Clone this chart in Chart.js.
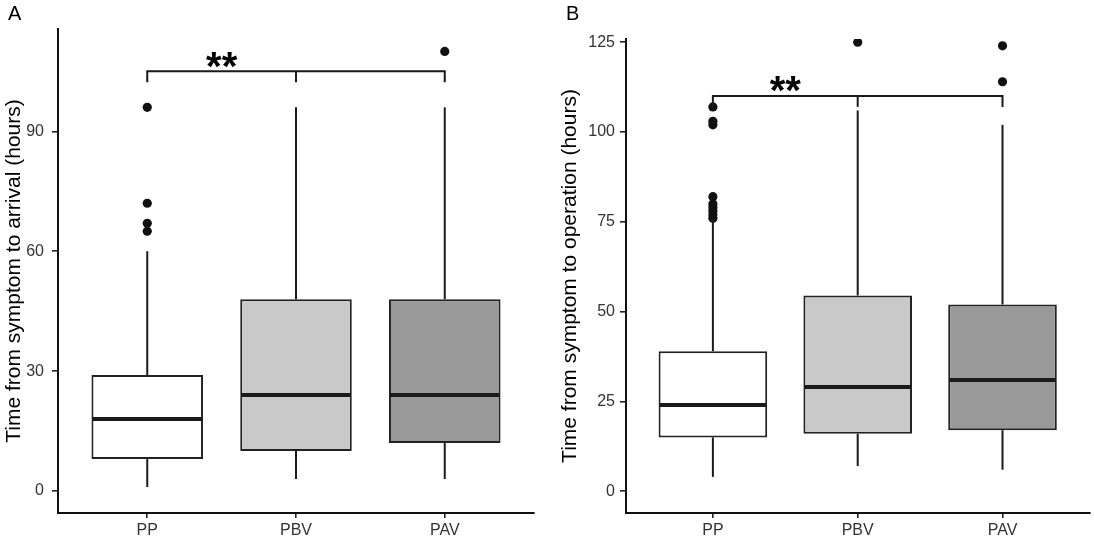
<!DOCTYPE html>
<html>
<head>
<meta charset="utf-8">
<script src="https://cdn.jsdelivr.net/npm/chart.js@4.4.1/dist/chart.umd.min.js"></script>
<style>
  html, body { margin: 0; padding: 0; background: #ffffff; }
  #wrap { position: relative; width: 1094px; height: 538px; overflow: hidden; }
  .pane { position: absolute; top: 0; height: 538px; }
  #paneA { left: 0; width: 545px; }
  #paneB { left: 545px; width: 549px; }
  .letter { position: absolute; top: 3px; font: 20px "Liberation Sans", Arial, sans-serif; line-height: 20px; color: #000; }
</style>
</head>
<body>
<div id="wrap">
  <div class="pane" id="paneA"><canvas id="chartA"></canvas></div>
  <div class="pane" id="paneB"><canvas id="chartB"></canvas></div>
  <div class="letter" style="left:8px;">A</div>
  <div class="letter" style="left:566px;">B</div>
</div>
<script>
// ---------- data ----------
const categories = ['PP', 'PBV', 'PAV'];
const boxFills = ['#ffffff', '#c9c9c9', '#999999'];

// Panel A: time from symptom to arrival (hours)
const A_title = 'Time from symptom to arrival (hours)';
const A_min = [1, 3, 3];
const A_q1 = [8, 10, 12];
const A_median = [18, 24, 24];
const A_q3 = [29, 48, 48];
const A_max = [60, 96, 96];
const A_outliers = [[65, 67, 72, 96], [], [110]];
const A_ticks = [0, 30, 60, 90];
const A_range = [-5.5, 115.6];
const A_bracket = [105, 102.3];   // bracket level, bracket leg end
const A_stars = [1.5, 108.3];     // category position, value

// Panel B: time from symptom to operation (hours)
const B_title = 'Time from symptom to operation (hours)';
const B_min = [4, 7, 6];
const B_q1 = [15, 16, 17];
const B_median = [24, 29, 31];
const B_q3 = [39, 54.5, 52];
const B_max = [76, 106, 102];
const B_outliers = [[76, 77, 78, 79, 80, 82, 102, 103, 107], [125], [114, 124]];
const B_ticks = [0, 25, 50, 75, 100, 125];
const B_range = [-6.05, 125.9];
const B_bracket = [110, 107];
const B_stars = [1.5, 114.1];

// ---------- plugin drawing whiskers, medians, bracket ----------
const boxExtras = {
  id: 'boxExtras',
  afterDatasetsDraw(chart, args, o) {
    const { ctx } = chart;
    const xs = chart.scales.x, ys = chart.scales.y;
    const meta = chart.getDatasetMeta(0);
    const seg = (x1, y1, x2, y2) => { ctx.beginPath(); ctx.moveTo(x1, y1); ctx.lineTo(x2, y2); ctx.stroke(); };
    ctx.save();
    ctx.strokeStyle = '#1a1a1a';
    ctx.lineCap = 'butt';
    o.lo.forEach((lo, i) => {
      const cx = xs.getPixelForValue(i + 1);
      ctx.lineWidth = 2;
      seg(cx, ys.getPixelForValue(o.q3[i]), cx, ys.getPixelForValue(o.hi[i]));
      seg(cx, ys.getPixelForValue(o.q1[i]), cx, ys.getPixelForValue(lo));
      const el = meta.data[i];
      const ym = ys.getPixelForValue(o.med[i]);
      ctx.lineWidth = 4;
      seg(el.x - el.width / 2 + 1, ym, el.x + el.width / 2 - 1, ym);
    });
    // significance bracket
    ctx.lineWidth = 2;
    ctx.lineCap = 'butt';
    ctx.lineJoin = 'miter';
    const by = ys.getPixelForValue(o.bracket[0]);
    const be = ys.getPixelForValue(o.bracket[1]);
    ctx.beginPath();
    ctx.moveTo(xs.getPixelForValue(1), be);
    ctx.lineTo(xs.getPixelForValue(1), by);
    ctx.lineTo(xs.getPixelForValue(3), by);
    ctx.lineTo(xs.getPixelForValue(3), be);
    ctx.stroke();
    seg(xs.getPixelForValue(2), by, xs.getPixelForValue(2), be);
    const fs = 40;
    ctx.font = 'bold ' + fs + 'px "Liberation Sans", Arial, sans-serif';
    ctx.fillStyle = '#000';
    ctx.textAlign = 'center';
    ctx.textBaseline = 'alphabetic';
    ctx.fillText('**', xs.getPixelForValue(o.stars[0]), ys.getPixelForValue(o.stars[1]) + 0.555 * fs);
    ctx.restore();
  }
};

function makeChart(id, d) {
  const boxData = categories.map((c, i) => ({ x: i + 1, y: [d.q1[i], d.q3[i]] }));
  const outData = [];
  d.out.forEach((arr, i) => arr.forEach(v => outData.push({ x: i + 1, y: v })));
  return new Chart(document.getElementById(id), {
    type: 'bar',
    data: {
      datasets: [
        {
          type: 'bar',
          data: boxData,
          backgroundColor: boxFills,
          borderColor: '#222222',
          borderWidth: 2,
          borderSkipped: false,
          barPercentage: 0.75,
          categoryPercentage: 1
        },
        {
          type: 'scatter',
          data: outData,
          pointRadius: 4.6,
          pointBackgroundColor: '#111111',
          pointBorderWidth: 0,
          showLine: false,
          clip: 0
        }
      ]
    },
    options: {
      responsive: false,
      animation: false,
      events: [],
      layout: { padding: d.pad },
      plugins: {
        legend: { display: false },
        tooltip: { enabled: false },
        boxExtras: { lo: d.min, q1: d.q1, med: d.med, q3: d.q3, hi: d.max, bracket: d.bracket, stars: d.stars }
      },
      scales: {
        x: {
          type: 'linear',
          min: 0.4, max: 3.6,
          bounds: 'data',
          offset: false,
          afterBuildTicks: s => { s.ticks = categories.map((c, i) => ({ value: i + 1 })); },
          afterFit: s => { s.height = 25; },
          ticks: {
            callback: v => categories[v - 1] ?? '',
            font: { family: '"Liberation Sans", Arial, sans-serif', size: 16 },
            color: '#333333',
            padding: 3,
            maxRotation: 0,
            autoSkip: false
          },
          grid: { offset: false, drawOnChartArea: false, drawTicks: true, tickLength: 5, color: '#222', lineWidth: 1.6 },
          border: { display: true, color: '#111', width: 2 }
        },
        y: {
          type: 'linear',
          min: d.range[0], max: d.range[1],
          bounds: 'data',
          afterBuildTicks: s => { s.ticks = d.ticks.map(v => ({ value: v })); },
          afterFit: s => { s.width = d.yWidth; },
          ticks: {
            font: { family: '"Liberation Sans", Arial, sans-serif', size: 16 },
            color: '#333333',
            padding: d.tickPad
          },
          grid: { drawOnChartArea: false, drawTicks: true, tickLength: 6, color: '#222', lineWidth: 1.6 },
          border: { display: true, color: '#111', width: 2 },
          title: {
            display: true,
            text: d.title,
            color: '#000',
            font: { family: '"Liberation Sans", Arial, sans-serif', size: 21, lineHeight: 1.2 },
            padding: { top: d.titlePad, bottom: 0 }
          }
        }
      }
    },
    plugins: [boxExtras]
  });
}

const cA = document.getElementById('chartA'); cA.width = 545; cA.height = 538;
const cB = document.getElementById('chartB'); cB.width = 549; cB.height = 538;

makeChart('chartA', {
  title: A_title, min: A_min, q1: A_q1, med: A_median, q3: A_q3, max: A_max, out: A_outliers,
  ticks: A_ticks, range: A_range, bracket: A_bracket, stars: A_stars,
  pad: { top: 29, right: 11, left: 0, bottom: 0 }, yWidth: 58, tickPad: 8, titlePad: 2
});
makeChart('chartB', {
  title: B_title, min: B_min, q1: B_q1, med: B_median, q3: B_q3, max: B_max, out: B_outliers,
  ticks: B_ticks, range: B_range, bracket: B_bracket, stars: B_stars,
  pad: { top: 39, right: 2, left: 0, bottom: 0 }, yWidth: 81, tickPad: 5, titlePad: 13
});
</script>
</body>
</html>
